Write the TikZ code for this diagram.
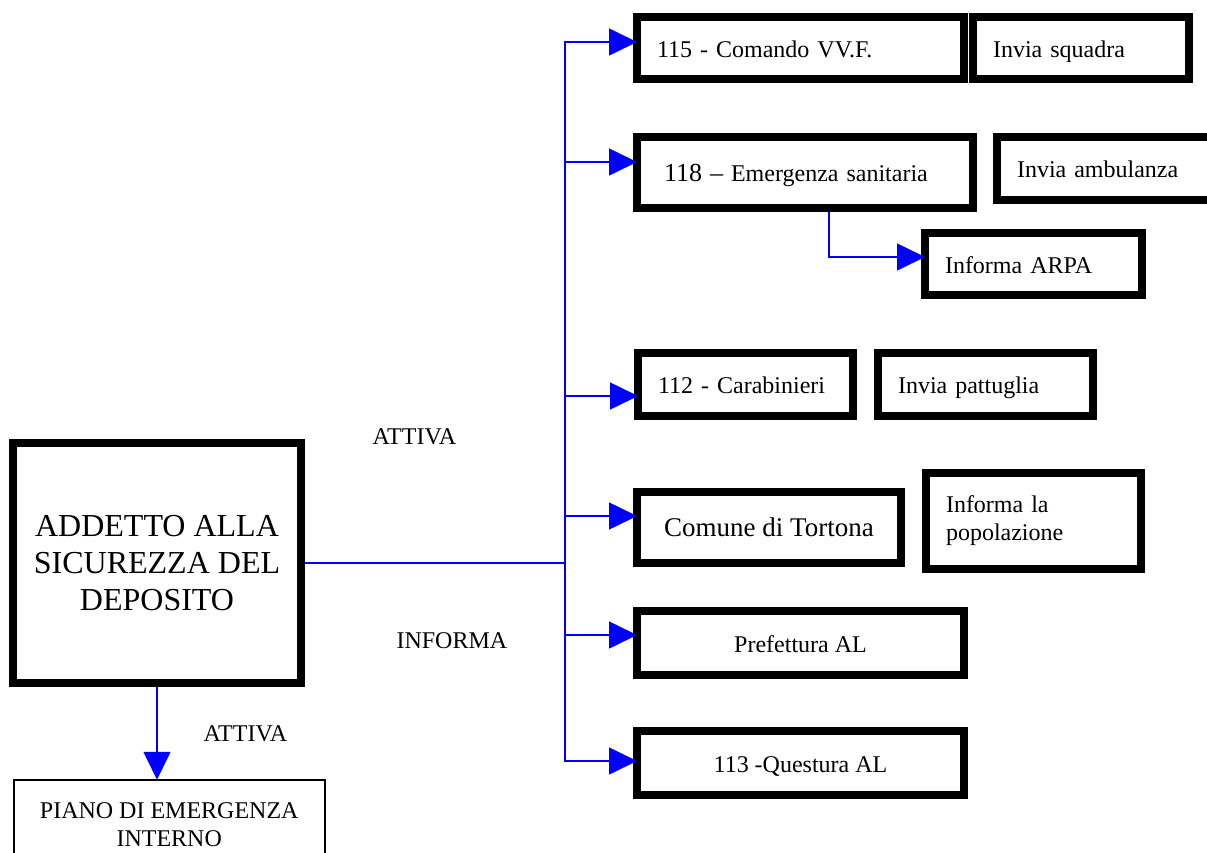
\documentclass[tikz,border=0pt]{standalone}
\usepackage{fontspec}
\setmainfont{Liberation Serif}
\usetikzlibrary{arrows.meta}

\begin{document}
\begin{tikzpicture}[x=1pt,y=-1pt,
    every node/.style={font=\fontsize{24}{28}\selectfont},
    box/.style={draw,line width=8pt,outer sep=0pt,inner xsep=20pt,inner ysep=0pt,anchor=north west},
    lbox/.style={box,text width=#1,text height=18pt,text depth=0pt},
    cbox/.style={box,align=center,minimum width=#1,text height=18pt,text depth=0pt},
    flow/.style={blue,line width=1.6pt},
    tip/.style={flow,-{Triangle[length=28pt,width=27pt]}},
    tag/.style={anchor=base west}]
    \useasboundingbox (0,0) rectangle (1207,852);

    \node[lbox=287pt,minimum height=62pt] (cmd115) at (637,17) {115 - Comando VV.F.};
    \node[lbox=176pt,minimum height=62pt] (squadra) at (973,17) {Invia squadra};
    \node[lbox=282pt,minimum height=71pt,inner xsep=27pt] (san118) at (637,137) {{\fontsize{26}{28}\selectfont 118 –} Emergenza sanitaria};
    \node[lbox=178pt,minimum height=63pt] (ambul) at (997,137) {Invia ambulanza};
    \node[lbox=177pt,minimum height=62pt] (arpa) at (925,233) {Informa ARPA};
    \node[lbox=175pt,minimum height=63pt] (cara112) at (638,353) {112 - Carabinieri};
    \node[lbox=175pt,minimum height=63pt] (pattug) at (878,353) {Invia pattuglia};
    \node[cbox=264pt,minimum height=71pt,font=\fontsize{27}{30}\selectfont] (comune) at (637,492) {Comune di Tortona};
    \node[box,text width=175pt,minimum height=96pt] (popol) at (926,473) {Informa la\newline popolazione};
    \node[cbox=327pt,minimum height=64pt] (prefet) at (637,611) {Prefettura AL};
    \node[cbox=327pt,minimum height=64pt] (quest) at (637,731) {113 -Questura AL};

    \node[box,align=center,minimum width=288pt,minimum height=240pt,font=\fontsize{32}{37}\selectfont] (addetto) at (13,443) {ADDETTO ALLA\\SICUREZZA DEL\\DEPOSITO};
    \node[draw,line width=1.5pt,outer sep=0pt,anchor=north west,minimum width=311pt,minimum height=90pt,inner ysep=16pt,align=center] (piano) at (13.75,779.75) {PIANO DI EMERGENZA\\INTERNO};

    \node[tag] (attiva1) at (369,444) {ATTIVA};
    \node[tag] (informa) at (393,648) {INFORMA};
    \node[tag] (attiva2) at (200,741) {ATTIVA};

    % linee blu
    \coordinate (hub) at (565,563);
    \coordinate (top) at (565,42);
    \coordinate (bot) at (565,761);
    \draw[flow,line cap=rect] (top) -- (bot);
    \draw[flow] ([xshift=4pt]addetto.east) -- (hub);
    \foreach \n/\y in {cmd115/42,san118/162,cara112/396,comune/516,prefet/635,quest/761}{
        \coordinate (b\n) at (565,\y);
        \draw[tip] (b\n) -- (b\n -| \n.west);
    }
    \coordinate (drop) at (829,257);
    \draw[tip] ([yshift=-4pt]san118.south -| drop) -- (drop) -- (drop -| arpa.west);
    \draw[tip] ([yshift=-4pt]addetto.south) -- (addetto.south |- piano.north);
\end{tikzpicture}
\end{document}
